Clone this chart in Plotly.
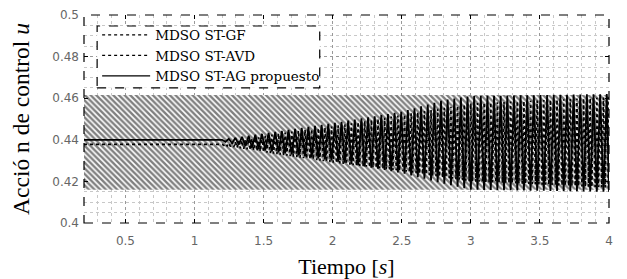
import numpy as np
import plotly.graph_objects as go

# ---- data (envelopes of the chattering control signals) ----
# MDSO ST-GF : constant-amplitude chattering band
gf_t = [0.2, 1.0, 2.0, 3.0, 4.0]
gf_upper = [0.4615, 0.4615, 0.4615, 0.4615, 0.4615]
gf_lower = [0.4160, 0.4160, 0.4160, 0.4160, 0.4160]

# MDSO ST-AVD : flat until ~1.2 s, then growing oscillation
avd_t = [0.2, 1.2, 1.6, 2.0, 2.5, 3.0, 4.0]
avd_upper = [0.4378, 0.4378, 0.4430, 0.4465, 0.4520, 0.4575, 0.4605]
avd_lower = [0.4374, 0.4374, 0.4330, 0.4290, 0.4250, 0.4200, 0.4170]
avd_half_period = 0.012

# MDSO ST-AG propuesto : flat until ~1.2 s, then growing oscillation
ag_t = [0.2, 1.2, 1.5, 2.0, 2.5, 2.8, 3.0, 4.0]
ag_upper = [0.4400, 0.4400, 0.4430, 0.4480, 0.4535, 0.4590, 0.4610, 0.4620]
ag_lower = [0.4394, 0.4394, 0.4350, 0.4300, 0.4240, 0.4190, 0.4160, 0.4150]
ag_half_period = 0.024

x_ticks = [0.5, 1, 1.5, 2, 2.5, 3, 3.5, 4]
x_tick_labels = ["0.5", "1", "1.5", "2", "2.5", "3", "3.5", "4"]
y_ticks = [0.4, 0.42, 0.44, 0.46, 0.48, 0.5]
y_tick_labels = ["0.4", "0.42", "0.44", "0.46", "0.48", "0.5"]

names = ["MDSO ST-GF", "MDSO ST-AVD", "MDSO ST-AG propuesto"]


def chatter(t_knots, up, lo, half_period, start=1.2):
    """Alternate between the read upper/lower envelopes every half period."""
    ts = [t_knots[0], start]
    ys = [np.interp(t_knots[0], t_knots, up), np.interp(start, t_knots, up)]
    t = start
    k = 0
    while t < 4.0 - 1e-9:
        t = min(t + half_period, 4.0)
        k += 1
        env = lo if k % 2 else up
        ts.append(t)
        ys.append(float(np.interp(t, t_knots, env)))
    return ts, ys


fig = go.Figure()

# GF band (hatched like the aliased dense chattering)
fig.add_trace(go.Scatter(
    x=gf_t + gf_t[::-1], y=gf_upper + gf_lower[::-1],
    fill="toself", mode="lines",
    line=dict(width=0, color="black"),
    fillcolor="white",
    fillpattern=dict(shape="\\", fgcolor="black", bgcolor="white",
                     size=4, solidity=0.6),
    showlegend=False, hoverinfo="skip"))

ax, ay = chatter(avd_t, avd_upper, avd_lower, avd_half_period)
fig.add_trace(go.Scatter(x=ax, y=ay, mode="lines",
                         line=dict(color="black", width=1.6, dash="dot"),
                         showlegend=False))

gx, gy = chatter(ag_t, ag_upper, ag_lower, ag_half_period)
fig.add_trace(go.Scatter(x=gx, y=gy, mode="lines",
                         line=dict(color="black", width=1.8),
                         showlegend=False))

# legend entries
for nm, dash in zip(names, ["dot", "dot", "solid"]):
    fig.add_trace(go.Scatter(x=[None], y=[None], mode="lines", name=nm,
                             line=dict(color="black", width=1.2, dash=dash)))

serif = "Liberation Serif, DejaVu Serif, serif"
tickfont = dict(family="DejaVu Sans, sans-serif", size=12, color="#666")

# page body has an 8px default margin: compensate so the plot lands in place
fig.update_layout(
    width=619, height=271,
    margin=dict(l=76, r=18, t=7, b=56),
    paper_bgcolor="white", plot_bgcolor="white",
    showlegend=True,
    legend=dict(x=0.025, y=0.978, xanchor="left", yanchor="top",
                bgcolor="rgba(255,255,255,0)", borderwidth=0,
                font=dict(family="DejaVu Serif, serif", size=13.5, color="black"),
                tracegroupgap=0, itemwidth=48),
    xaxis=dict(range=[0.2, 4], tickvals=x_ticks, ticktext=x_tick_labels,
               ticks="inside", ticklen=4, tickcolor="black",
               showline=False, mirror="allticks", zeroline=False,
               automargin=False, ticklabelstandoff=9,
               showgrid=True, gridcolor="#999", griddash="dot", gridwidth=1,
               minor=dict(dtick=0.1, showgrid=True, gridcolor="#c8c8c8",
                          griddash="dot", gridwidth=1),
               tickfont=tickfont,
               title=dict(text="Tiempo [<i>s</i>]", standoff=14,
                          font=dict(family=serif, size=22, color="black"))),
    yaxis=dict(range=[0.4, 0.5], tickvals=y_ticks, ticktext=y_tick_labels,
               ticks="inside", ticklen=4, tickcolor="black",
               showline=False, mirror="allticks", zeroline=False,
               automargin=False, ticklabelstandoff=4,
               showgrid=True, gridcolor="#999", griddash="dot", gridwidth=1,
               minor=dict(dtick=0.005, showgrid=True, gridcolor="#c8c8c8",
                          griddash="dot", gridwidth=1),
               tickfont=tickfont,
               title=dict(text="Acció n de control <i>u</i>", standoff=16,
                          font=dict(family=serif, size=23.5, color="black"))),
    shapes=[
        dict(type="rect", xref="paper", yref="paper", x0=0, x1=1, y0=0, y1=1,
             line=dict(color="black", width=1.2, dash="dash"), layer="above"),
        dict(type="rect", xref="paper", yref="paper",
             x0=0.025, x1=0.449, y0=0.65, y1=0.947,
             line=dict(color="black", width=1.2, dash="dash"),
             fillcolor="white", layer="above"),
    ],
)

fig.write_html("out.html")
